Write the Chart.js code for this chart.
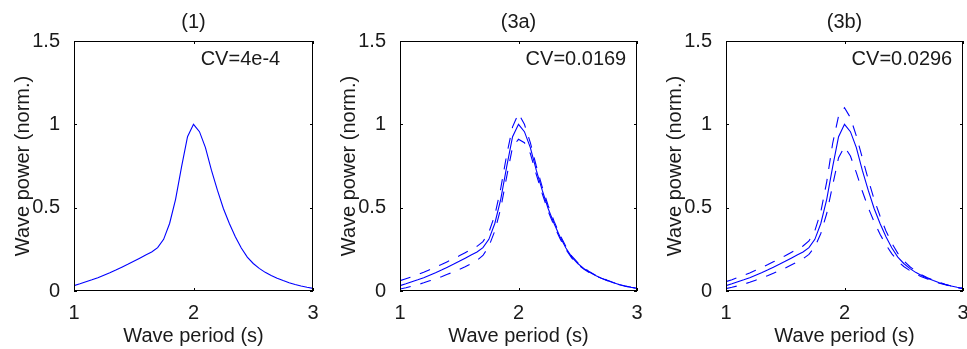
<!DOCTYPE html>
<html>
<head>
<meta charset="utf-8">
<title>Wave power spectra</title>
<style>
  body { margin: 0; background: #fff; }
  #wrap { position: relative; width: 967px; height: 349px; overflow: hidden; }
  canvas { position: absolute; top: 0; }
</style>
</head>
<body>
<div id="wrap">
  <canvas id="c1" width="322" height="349" style="left:0px"></canvas>
  <canvas id="c2" width="320" height="349" style="left:326px"></canvas>
  <canvas id="c3" width="315" height="349" style="left:652px"></canvas>
</div>

<script src="https://cdn.jsdelivr.net/npm/chart.js"></script>
<script>
  // wave period (s)
  const periods = [1.00, 1.05, 1.10, 1.15, 1.20, 1.25, 1.30, 1.35, 1.40, 1.45,
                   1.50, 1.55, 1.60, 1.65, 1.70, 1.75, 1.80, 1.85, 1.90, 1.95,
                   2.00, 2.05, 2.10, 2.15, 2.20, 2.25, 2.30, 2.35, 2.40, 2.45,
                   2.50, 2.55, 2.60, 2.65, 2.70, 2.75, 2.80, 2.85, 2.90, 2.95, 3.00];

  // normalised wave power, mean spectrum
  const powerMean = [0.032, 0.043, 0.055, 0.067, 0.080, 0.095, 0.110, 0.126, 0.143, 0.160,
                     0.178, 0.197, 0.216, 0.234, 0.260, 0.310, 0.405, 0.550, 0.745, 0.926,
                     1.000, 0.956, 0.860, 0.725, 0.605, 0.495, 0.405, 0.325, 0.258, 0.203,
                     0.165, 0.136, 0.112, 0.093, 0.077, 0.063, 0.050, 0.039, 0.030, 0.022, 0.016];

  // (3a) upper / lower dashed curves
  const power3aUpper = [0.062, 0.074, 0.086, 0.099, 0.113, 0.128, 0.143, 0.159, 0.176, 0.193,
                        0.211, 0.230, 0.249, 0.268, 0.296, 0.352, 0.455, 0.615, 0.815, 0.985,
                        1.066, 1.000, 0.890, 0.750, 0.625, 0.513, 0.419, 0.336, 0.267, 0.210,
                        0.170, 0.140, 0.115, 0.095, 0.078, 0.064, 0.051, 0.040, 0.030, 0.022, 0.016];
  const power3aLower = [0.012, 0.020, 0.029, 0.038, 0.049, 0.061, 0.073, 0.086, 0.100, 0.114,
                        0.129, 0.146, 0.164, 0.184, 0.213, 0.268, 0.360, 0.495, 0.685, 0.865,
                        0.910, 0.890, 0.825, 0.700, 0.585, 0.479, 0.392, 0.315, 0.250, 0.197,
                        0.160, 0.132, 0.109, 0.091, 0.076, 0.062, 0.049, 0.038, 0.029, 0.021, 0.015];

  // (3b) upper / lower dashed curves
  const power3bUpper = [0.056, 0.068, 0.081, 0.094, 0.108, 0.124, 0.140, 0.157, 0.175, 0.193,
                        0.211, 0.231, 0.251, 0.270, 0.300, 0.362, 0.475, 0.655, 0.885, 1.050,
                        1.100, 1.040, 0.930, 0.800, 0.670, 0.550, 0.450, 0.360, 0.286, 0.226,
                        0.182, 0.147, 0.120, 0.098, 0.080, 0.065, 0.052, 0.040, 0.030, 0.022, 0.016];
  const power3bLower = [0.014, 0.022, 0.031, 0.041, 0.052, 0.065, 0.078, 0.092, 0.107, 0.122,
                        0.138, 0.156, 0.174, 0.193, 0.220, 0.265, 0.345, 0.465, 0.635, 0.800,
                        0.866, 0.810, 0.710, 0.600, 0.500, 0.415, 0.340, 0.277, 0.223, 0.179,
                        0.147, 0.123, 0.102, 0.086, 0.072, 0.059, 0.047, 0.037, 0.028, 0.020, 0.014];

  const panelTitles = ['(1)', '(3a)', '(3b)'];
  const cvLabels = ['CV=4e-4', 'CV=0.0169', 'CV=0.0296'];
  const xTicks = [1, 2, 3];
  const yTicks = [0, 0.5, 1, 1.5];

  const FONT = '"Liberation Sans", Arial, Helvetica, sans-serif';
  const TEXT = '#1a1a1a';
  const BLUE = '#0000ff';

  function pts(ys) {
    return periods.map((p, i) => ({x: p, y: ys[i]}));
  }

  // box round the axes with inward ticks, panel title and CV note
  const matlabBox = {
    id: 'matlabBox',
    afterDraw(chart, args, opts) {
      const {ctx, chartArea: a, scales: {x, y}} = chart;
      ctx.save();
      ctx.strokeStyle = '#000';
      ctx.lineWidth = 1;
      ctx.strokeRect(a.left + 0.5, a.top + 0.5, a.right - a.left - 1, a.bottom - a.top - 1);
      const len = 3;
      ctx.beginPath();
      x.ticks.forEach(t => {
        const px = Math.round(x.getPixelForValue(t.value)) + 0.5;
        ctx.moveTo(px, a.bottom); ctx.lineTo(px, a.bottom - len);
        ctx.moveTo(px, a.top); ctx.lineTo(px, a.top + len);
      });
      y.ticks.forEach(t => {
        const py = Math.round(y.getPixelForValue(t.value)) + 0.5;
        ctx.moveTo(a.left, py); ctx.lineTo(a.left + len, py);
        ctx.moveTo(a.right, py); ctx.lineTo(a.right - len, py);
      });
      ctx.stroke();

      ctx.fillStyle = TEXT;
      ctx.font = '20px ' + FONT;
      ctx.textBaseline = 'middle';
      ctx.textAlign = 'center';
      ctx.fillText(opts.title, (a.left + a.right) / 2, 22);
      ctx.textAlign = 'left';
      ctx.fillText(opts.note, x.getPixelForValue(opts.noteX), y.getPixelForValue(opts.noteY));
      ctx.restore();
    }
  };

  function makeChart(id, idx, series, padRight) {
    const datasets = series.map(s => ({
      data: pts(s.values),
      borderColor: BLUE,
      borderWidth: 1.1,
      borderDash: s.dashed ? [11, 10] : [],
      pointRadius: 0,
      tension: 0,
      fill: false
    }));

    return new Chart(document.getElementById(id), {
      type: 'line',
      data: {datasets: datasets},
      plugins: [matlabBox],
      options: {
        responsive: false,
        animation: false,
        events: [],
        layout: {padding: {top: 41, right: padRight, left: 0, bottom: 0}},
        plugins: {
          legend: {display: false},
          tooltip: {enabled: false},
          matlabBox: {title: panelTitles[idx], note: cvLabels[idx], noteX: 2.06, noteY: 1.39}
        },
        scales: {
          x: {
            type: 'linear',
            min: 1, max: 3,
            afterBuildTicks: s => { s.ticks = xTicks.map(v => ({value: v})); },
            afterFit: s => { s.height = 58; s.paddingLeft = 0; s.paddingRight = 0; },
            grid: {display: false},
            border: {display: false},
            ticks: {padding: 2, color: TEXT, font: {family: FONT, size: 20}, maxRotation: 0,
                    callback: v => String(v)},
            title: {display: true, text: 'Wave period (s)', color: TEXT,
                    font: {family: FONT, size: 20}, padding: {top: 0, bottom: 1}}
          },
          y: {
            type: 'linear',
            min: 0, max: 1.5,
            afterBuildTicks: s => { s.ticks = yTicks.map(v => ({value: v})); },
            afterFit: s => { s.width = 74; },
            grid: {display: false},
            border: {display: false},
            ticks: {padding: 6, color: TEXT, font: {family: FONT, size: 20},
                    callback: v => String(v)},
            title: {display: true, text: 'Wave power (norm.)', color: TEXT,
                    font: {family: FONT, size: 20}, padding: {top: 11, bottom: 0}}
          }
        }
      }
    });
  }

  makeChart('c1', 0, [
    {values: powerMean, dashed: false}
  ], 9);

  makeChart('c2', 1, [
    {values: power3aUpper, dashed: true},
    {values: power3aLower, dashed: true},
    {values: powerMean, dashed: false}
  ], 9);

  makeChart('c3', 2, [
    {values: power3bUpper, dashed: true},
    {values: power3bLower, dashed: true},
    {values: powerMean, dashed: false}
  ], 4);
</script>
</body>
</html>
